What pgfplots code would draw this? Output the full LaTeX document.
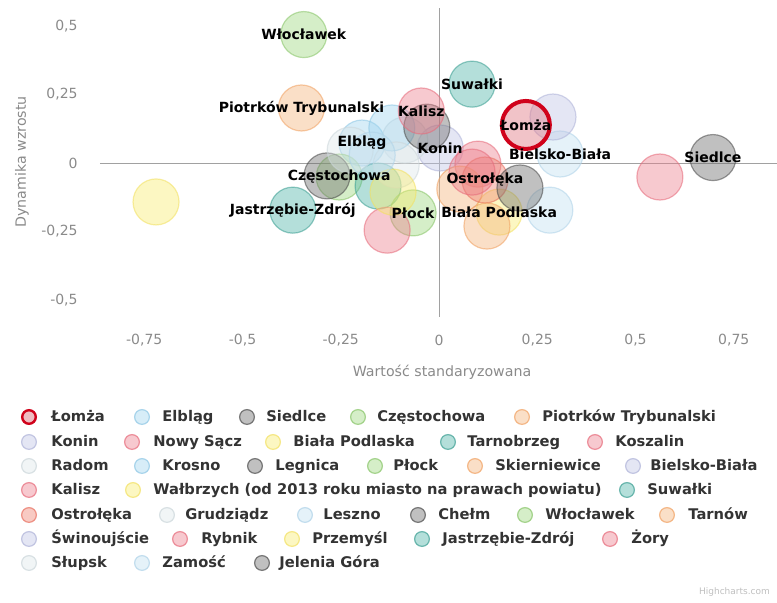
\documentclass[border=0pt]{standalone}
\usepackage{fontspec}
\setmainfont{DejaVu Sans}
\usepackage{pgfplots}
\pgfplotsset{compat=1.18}

\definecolor{cRed}{HTML}{E07A86}
\definecolor{cRedB}{HTML}{D0021B}
\definecolor{cGray}{HTML}{6A6A6A}\definecolor{cGrayB}{HTML}{4A4A4A}
\definecolor{cGreen}{HTML}{9CD67C}\definecolor{cGreenB}{HTML}{86C466}
\definecolor{cTeal}{HTML}{4DB3A6}\definecolor{cTealB}{HTML}{3A9E92}
\definecolor{cPink}{HTML}{EC7E8C}\definecolor{cPinkB}{HTML}{E66A7A}
\definecolor{cOrange}{HTML}{F4B27A}\definecolor{cOrangeB}{HTML}{F0A060}
\definecolor{cBlue}{HTML}{9FD4EE}\definecolor{cBlueB}{HTML}{8CC6E4}
\definecolor{cYellow}{HTML}{F7EB6E}\definecolor{cYellowB}{HTML}{F2E060}
\definecolor{cLav}{HTML}{BFC3E4}\definecolor{cLavB}{HTML}{AEB2D8}
\definecolor{cWhite}{HTML}{DDE6E9}\definecolor{cWhiteB}{HTML}{CBD6DA}
\definecolor{cSalmon}{HTML}{EE8070}\definecolor{cSalmonB}{HTML}{E86E5E}
\definecolor{cLBlue}{HTML}{C2E0F0}\definecolor{cLBlueB}{HTML}{AED2E8}
\definecolor{tickgray}{HTML}{8A8A8A}
\definecolor{legtext}{HTML}{333333}

\newcommand{\legfont}{\bfseries\fontsize{7.35}{8.8}\selectfont}
\newcommand{\lblfont}{\bfseries\fontsize{7}{8.4}\selectfont}

\pgfplotsset{
  bub/.style 2 args={only marks, mark=*, mark size=11.5pt,
    mark options={fill=#1, fill opacity=0.42, draw=#2, draw opacity=0.55, line width=0.6pt}},
}

\newcommand{\litem}[6]{%
  \node[circle, inner sep=0pt, minimum size=7.4pt, fill=#4, fill opacity=0.42, draw=#5, draw opacity=0.7, line width=0.6pt] at (#1,#3) {};
  \node[anchor=base west, inner sep=0pt, font=\legfont, text=legtext] at (#2,#3+5) {#6};}

\begin{document}
\begin{tikzpicture}
\path[use as bounding box] (0pt,0pt) rectangle (388.5pt,301.5pt);
\begin{axis}[
  at={(50pt,143pt)}, anchor=south west,
  scale only axis, width=339pt, height=154.5pt,
  xmin=-0.8626, xmax=0.8626, ymin=-0.562, ymax=0.566,
  axis line style={draw=none},
  tick style={draw=none},
  xtick={-0.75,-0.5,-0.25,0,0.25,0.5,0.75},
  ytick={-0.5,-0.25,0,0.25,0.5},
  extra x ticks={0}, extra y ticks={0},
  extra x tick labels={}, extra y tick labels={},
  extra tick style={grid=major, major grid style={draw=tickgray!80, line width=0.5pt}},
  /pgf/number format/use comma,
  /pgf/number format/assume math mode=true,
  ticklabel style={font=\fontsize{7}{8}\selectfont, text=tickgray},
  xticklabel style={anchor=center, yshift=-11.5pt},
  yticklabel style={anchor=east, inner sep=0pt, xshift=-11pt},
]
% series in legend order (Łomża drawn last on top)
\addplot[bub={cBlue}{cBlueB}] coordinates {(-0.196,0.073)};      % Elbląg
\addplot[bub={cGray}{cGrayB}] coordinates {(0.697,0.020)};       % Siedlce
\addplot[bub={cGreen}{cGreenB}] coordinates {(-0.254,-0.051)};   % Częstochowa
\addplot[bub={cOrange}{cOrangeB}] coordinates {(-0.350,0.201)};  % Piotrków Trybunalski
\addplot[bub={cLav}{cLavB}] coordinates {(0.003,0.055)};         % Konin
\addplot[bub={cPink}{cPinkB}] coordinates {(0.099,-0.004)};      % Nowy Sącz
\addplot[bub={cYellow}{cYellowB}] coordinates {(0.153,-0.179)};  % Biała Podlaska
\addplot[bub={cTeal}{cTealB}] coordinates {(-0.155,-0.084)};     % Tarnobrzeg
\addplot[bub={cPink}{cPinkB}] coordinates {(0.562,-0.051)};      % Koszalin
\addplot[bub={cWhite}{cWhiteB}] coordinates {(-0.087,0.084)};    % Radom
\addplot[bub={cBlue}{cBlueB}] coordinates {(-0.120,0.128)};      % Krosno
\addplot[bub={cGray}{cGrayB}] coordinates {(-0.031,0.131)};      % Legnica
\addplot[bub={cGreen}{cGreenB}] coordinates {(-0.066,-0.182)};   % Płock
\addplot[bub={cOrange}{cOrangeB}] coordinates {(0.053,-0.095)};  % Skierniewice
\addplot[bub={cLBlue}{cLBlueB}] coordinates {(0.308,0.033)};     % Bielsko-Biała
\addplot[bub={cPink}{cPinkB}] coordinates {(-0.045,0.190)};      % Kalisz
\addplot[bub={cYellow}{cYellowB}] coordinates {(-0.720,-0.142)}; % Wałbrzych
\addplot[bub={cTeal}{cTealB}] coordinates {(0.084,0.288)};       % Suwałki
\addplot[bub={cSalmon}{cSalmonB}] coordinates {(0.117,-0.062)};  % Ostrołęka
\addplot[bub={cWhite}{cWhiteB}] coordinates {(-0.109,-0.007)};   % Grudziądz
\addplot[bub={cLBlue}{cLBlueB}] coordinates {(0.282,-0.172)};    % Leszno
\addplot[bub={cGray}{cGrayB}] coordinates {(-0.285,-0.047)};     % Chełm
\addplot[bub={cGreen}{cGreenB}] coordinates {(-0.344,0.469)};    % Włocławek
\addplot[bub={cOrange}{cOrangeB}] coordinates {(0.122,-0.230)};  % Tarnów
\addplot[bub={cLav}{cLavB}] coordinates {(0.290,0.168)};         % Świnoujście
\addplot[bub={cPink}{cPinkB}] coordinates {(-0.132,-0.245)};     % Rybnik
\addplot[bub={cYellow}{cYellowB}] coordinates {(-0.117,-0.106)}; % Przemyśl
\addplot[bub={cTeal}{cTealB}] coordinates {(-0.372,-0.172)};     % Jastrzębie-Zdrój
\addplot[bub={cPink}{cPinkB}] coordinates {(0.084,-0.033)};      % Żory
\addplot[bub={cWhite}{cWhiteB}] coordinates {(-0.226,0.047)};    % Słupsk
\addplot[bub={cLBlue}{cLBlueB}] coordinates {(-0.170,0.029)};    % Zamość
\addplot[bub={cGray}{cGrayB}] coordinates {(0.206,-0.091)};      % Jelenia Góra
\addplot[only marks, mark=*, mark size=12pt,
  mark options={fill=cRed, fill opacity=0.45, draw=cRedB, draw opacity=1, line width=2pt}]
  coordinates {(0.221,0.139)};                                   % Łomża
% data labels
\addplot[draw=none, mark=none, point meta=explicit symbolic, nodes near coords,
  every node near coord/.append style={anchor=center, font=\lblfont, text=black, inner sep=0pt}]
  coordinates {
  (-0.344,0.469) [Włocławek]
  (0.084,0.288) [Suwałki]
  (-0.350,0.201) [Piotrków Trybunalski]
  (-0.045,0.190) [Kalisz]
  (0.221,0.139) [Łomża]
  (-0.196,0.073) [Elbląg]
  (0.003,0.055) [Konin]
  (0.308,0.033) [Bielsko-Biała]
  (0.697,0.020) [Siedlce]
  (-0.254,-0.051) [Częstochowa]
  (0.117,-0.062) [Ostrołęka]
  (-0.372,-0.172) [Jastrzębie-Zdrój]
  (-0.066,-0.182) [Płock]
  (0.153,-0.179) [Biała Podlaska]
  };
\end{axis}
\begin{scope}[shift={(0pt,301.5pt)}, x=0.5pt, y=-0.5pt]
\node[font=\fontsize{7.1}{8}\selectfont, text=tickgray] at (442,372) {Wartość standaryzowana};
\node[rotate=90, font=\fontsize{7.1}{8}\selectfont, text=tickgray] at (22,162) {Dynamika wzrostu};
\node[anchor=east, font=\fontsize{4.5}{5}\selectfont, text=black!25] at (777,592) {Highcharts.com};
% legend
\node[circle, inner sep=0pt, minimum size=6.8pt, fill=cRed, fill opacity=0.5, draw=cRedB, line width=1.2pt] at (29,417) {};
\node[anchor=base west, inner sep=0pt, font=\legfont, text=legtext] at (51,422) {Łomża};
\litem{142}{162}{417}{cBlue}{cBlueB}{Elbląg}
\litem{247}{266}{417}{cGray}{cGrayB}{Siedlce}
\litem{358}{377}{417}{cGreen}{cGreenB}{Częstochowa}
\litem{522}{542}{417}{cOrange}{cOrangeB}{Piotrków Trybunalski}
\litem{29}{51}{442}{cLav}{cLavB}{Konin}
\litem{132}{153}{442}{cPink}{cPinkB}{Nowy Sącz}
\litem{273}{293}{442}{cYellow}{cYellowB}{Biała Podlaska}
\litem{448}{467}{442}{cTeal}{cTealB}{Tarnobrzeg}
\litem{595}{615}{442}{cPink}{cPinkB}{Koszalin}
\litem{29}{51}{466}{cWhite}{cWhiteB}{Radom}
\litem{142}{162}{466}{cBlue}{cBlueB}{Krosno}
\litem{255}{275}{466}{cGray}{cGrayB}{Legnica}
\litem{375}{393}{466}{cGreen}{cGreenB}{Płock}
\litem{475}{495}{466}{cOrange}{cOrangeB}{Skierniewice}
\litem{633}{650}{466}{cLav}{cLavB}{Bielsko-Biała}
\litem{29}{51}{490}{cPink}{cPinkB}{Kalisz}
\litem{133}{153}{490}{cYellow}{cYellowB}{Wałbrzych (od 2013 roku miasto na prawach powiatu)}
\litem{627}{647}{490}{cTeal}{cTealB}{Suwałki}
\litem{29}{51}{515}{cSalmon}{cSalmonB}{Ostrołęka}
\litem{167}{185}{515}{cWhite}{cWhiteB}{Grudziądz}
\litem{305}{323}{515}{cLBlue}{cLBlueB}{Leszno}
\litem{418}{438}{515}{cGray}{cGrayB}{Chełm}
\litem{525}{545}{515}{cGreen}{cGreenB}{Włocławek}
\litem{667}{688}{515}{cOrange}{cOrangeB}{Tarnów}
\litem{29}{51}{539}{cLav}{cLavB}{Świnoujście}
\litem{180}{201}{539}{cPink}{cPinkB}{Rybnik}
\litem{292}{312}{539}{cYellow}{cYellowB}{Przemyśl}
\litem{422}{442}{539}{cTeal}{cTealB}{Jastrzębie-Zdrój}
\litem{610}{631}{539}{cPink}{cPinkB}{Żory}
\litem{29}{51}{563}{cWhite}{cWhiteB}{Słupsk}
\litem{142}{162}{563}{cLBlue}{cLBlueB}{Zamość}
\litem{262}{279}{563}{cGray}{cGrayB}{Jelenia Góra}
\end{scope}
\end{tikzpicture}
\end{document}
